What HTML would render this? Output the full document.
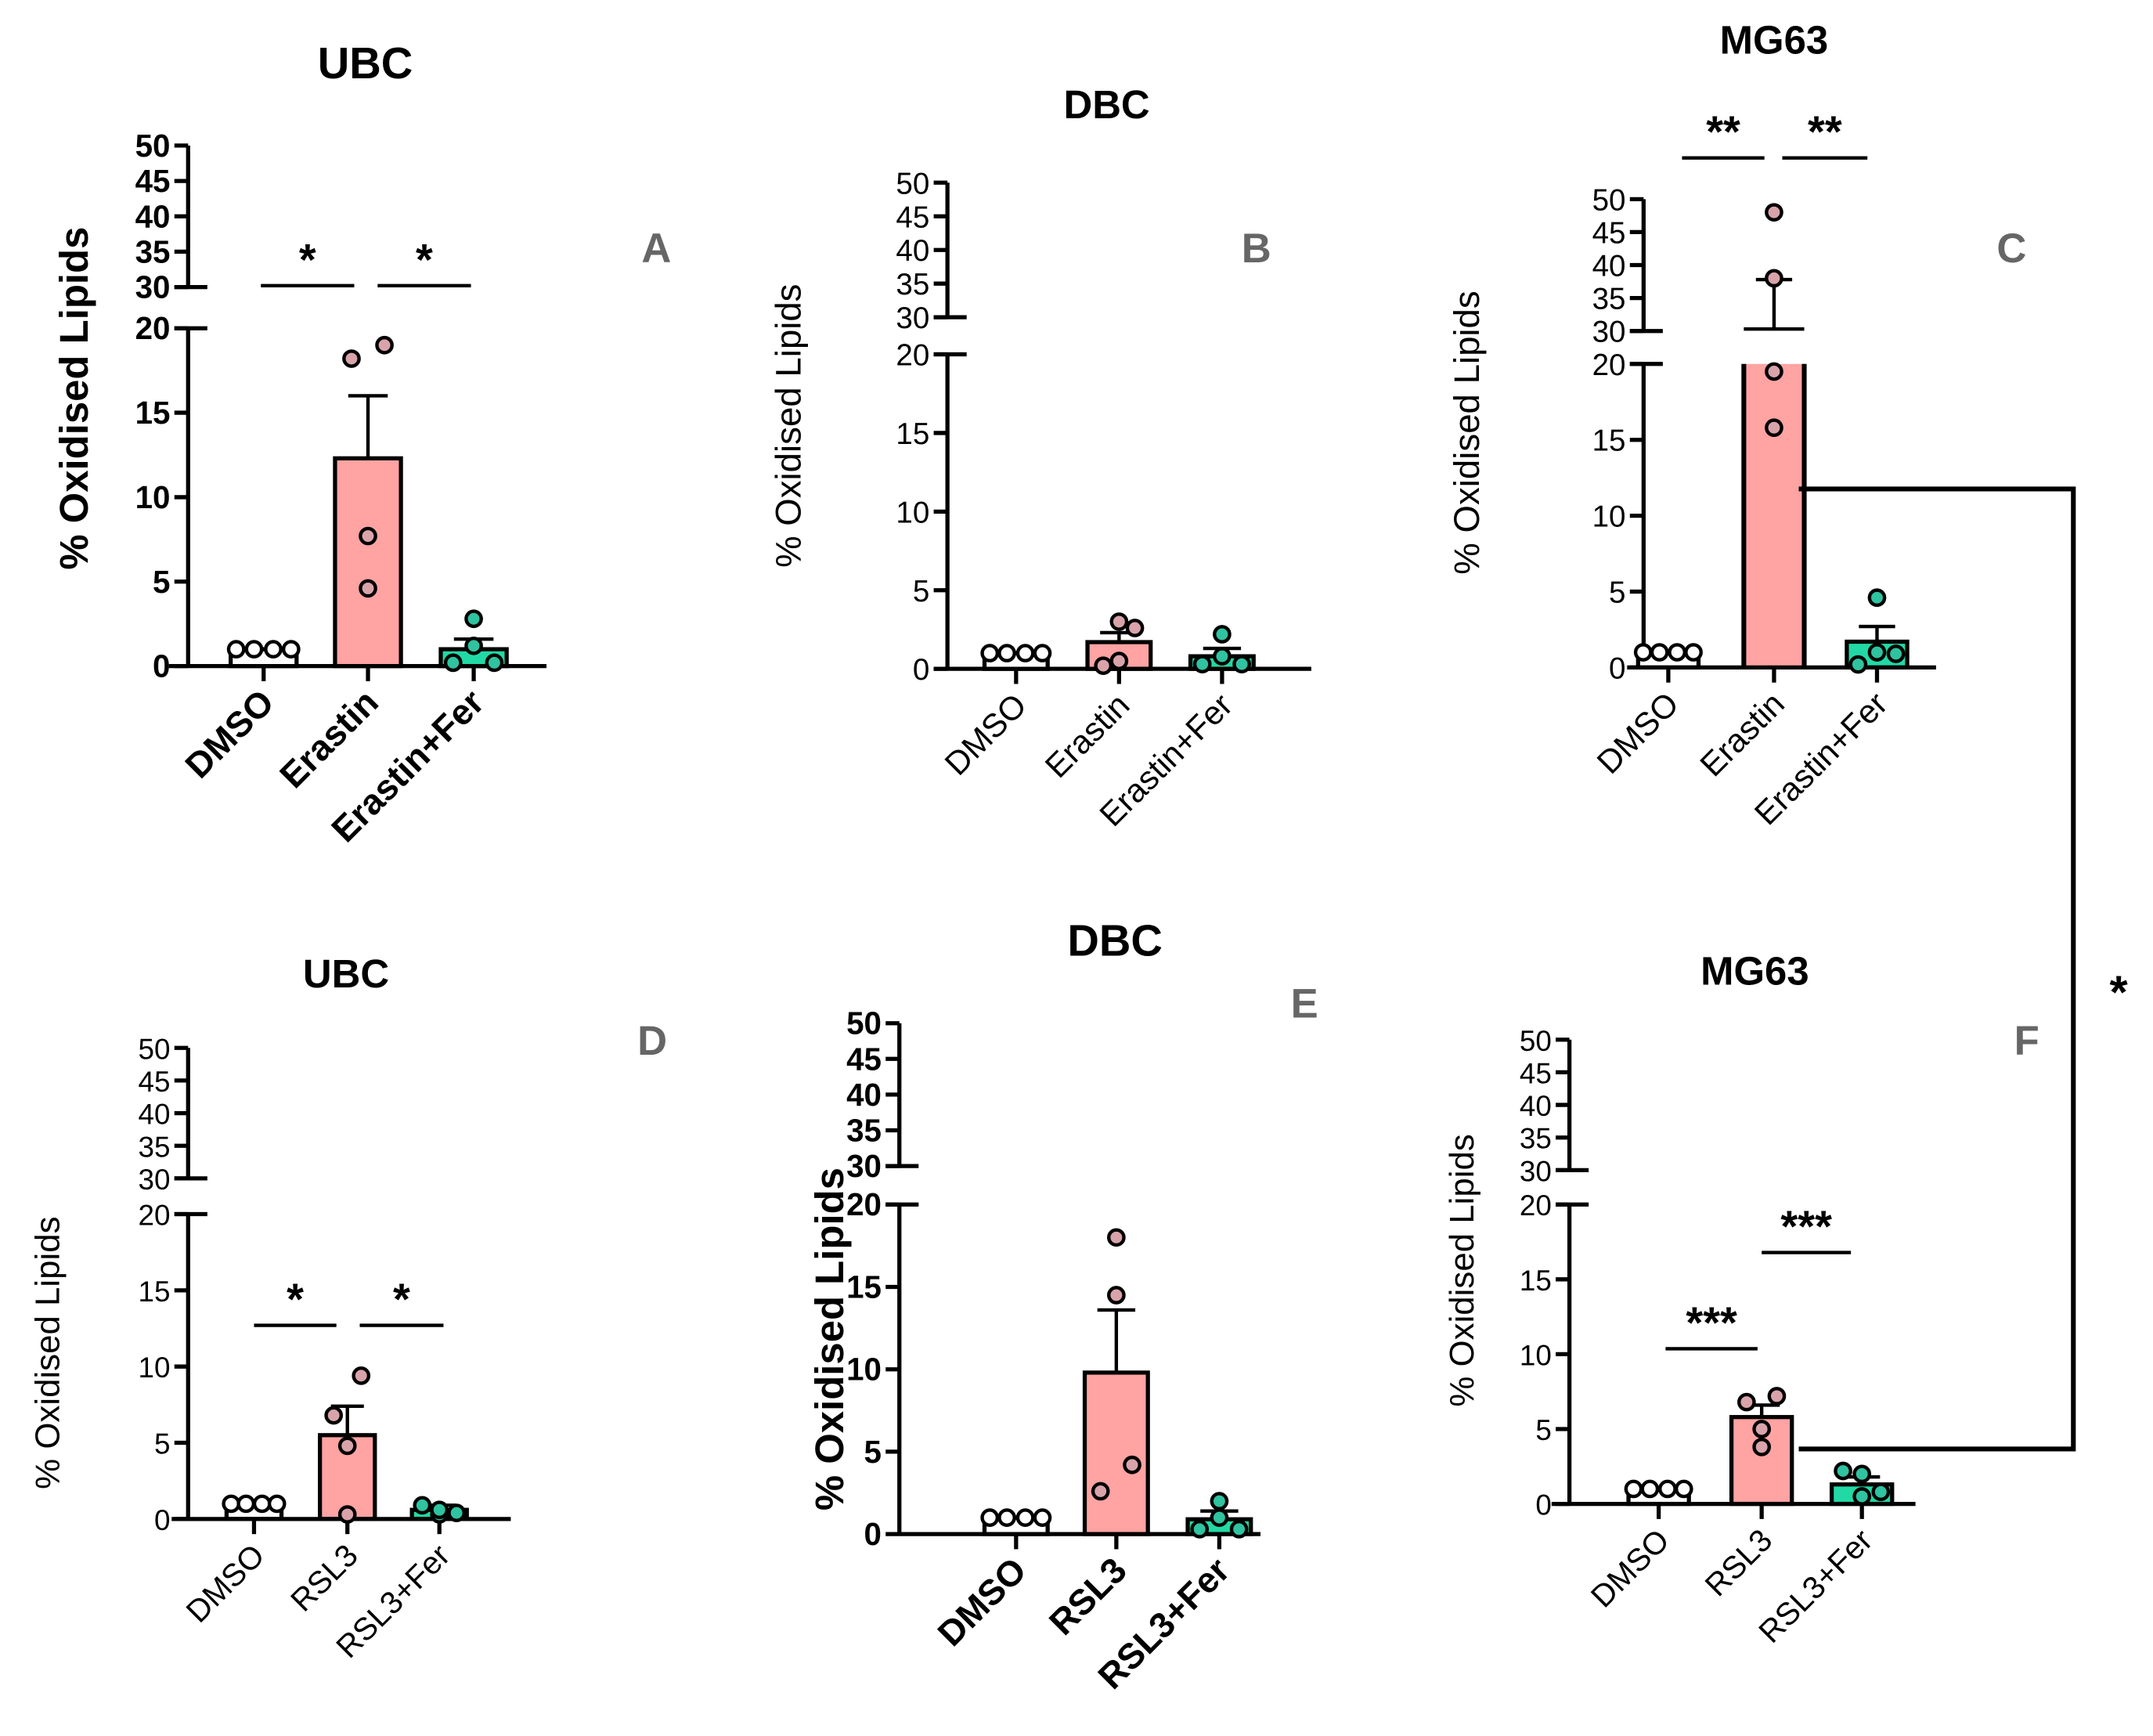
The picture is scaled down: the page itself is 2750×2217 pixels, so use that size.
<!DOCTYPE html>
<html><head><meta charset="utf-8">
<style>
html,body{margin:0;padding:0;background:#fff;}
svg{display:block;}
text{font-family:"Liberation Sans",Arial,sans-serif;fill:#000;}
</style></head>
<body>
<svg id="fig" width="2750" height="2217" viewBox="0 0 1568 1264" preserveAspectRatio="none" xmlns="http://www.w3.org/2000/svg"></svg>
<script>
// ---- data ----
const catsA = ["DMSO","Erastin","Erastin+Fer"];
const meansA = [1.0, 12.3, 1.0];
const semsA = [0, 3.7, 0.6];
const ptsA = [[1,1,1,1],[18.2,19.0,7.7,4.6],[0.2,2.8,1.2,0.2]];

const catsB = ["DMSO","Erastin","Erastin+Fer"];
const meansB = [1.0, 1.7, 0.8];
const semsB = [0, 0.6, 0.5];
const ptsB = [[1,1,1,1],[0.2,2.6,3.0,0.5],[0.3,2.2,0.8,0.3]];

const catsC = ["DMSO","Erastin","Erastin+Fer"];
const meansC = [1.0, 30.3, 1.7];
const semsC = [0, 7.5, 1.0];
const ptsC = [[1,1,1,1],[15.8,19.5,38.0,48.0],[0.2,1.0,4.6,0.9]];

const catsD = ["DMSO","RSL3","RSL3+Fer"];
const meansD = [1.0, 5.5, 0.6];
const semsD = [0, 1.9, 0.3];
const ptsD = [[1,1,1,1],[6.8,9.4,4.8,0.3],[0.9,0.3,0.6,0.4]];

const catsE = ["DMSO","RSL3","RSL3+Fer"];
const meansE = [1.0, 9.8, 0.9];
const semsE = [0, 3.8, 0.5];
const ptsE = [[1,1,1,1],[2.6,4.2,14.5,18.0],[0.3,1.0,2.0,0.3]];

const catsF = ["DMSO","RSL3","RSL3+Fer"];
const meansF = [1.0, 5.8, 1.3];
const semsF = [0, 0.8, 0.5];
const ptsF = [[1,1,1,1],[6.8,7.2,5.0,3.8],[2.2,0.5,2.0,0.8]];

const ticksLow = [0,5,10,15,20];
const ticksHigh = [30,35,40,45,50];

// ---- layout ----
const NS = "http://www.w3.org/2000/svg";
const svg = document.getElementById("fig");
function el(tag, attrs, parent, txt){
  const e = document.createElementNS(NS, tag);
  for (const k in attrs) e.setAttribute(k, attrs[k]);
  if (txt !== undefined) e.textContent = txt;
  (parent||svg).appendChild(e);
  return e;
}
const fills = ["#ffffff","#ffa3a3","#22d9a5"];
const ptFills = ["#ffffff","#d9a3aa","#2fc3a0"];
const jit = [[-20,-7,7,20],[-12,12,0,0],[-15,0,0,15]];

function panel(L, cats, means, sems, pts){
  const g = el("g", {});
  
  
  const lowK = (L.y0 - L.y20)/20, highK = (L.y30 - L.y50)/20;
  const y = v => v <= 20 ? L.y0 - v*lowK : (v >= 30 ? L.y30 - (v-30)*highK : L.y20 - 2);
  const xc = i => L.cx[i];
  const fw = L.bold ? "bold" : "normal";
  const sw = 3;
  const t = el("text", {x:L.tx, y:L.ty, "text-anchor":"middle", "font-size":L.tfs, "font-weight":"bold"}, g, L.title);
  
  
  const lt = el("text", {x:L.lx, y:L.ly, "text-anchor":"middle", "font-size":30, "font-weight":"bold", style:"fill:#666"}, g, L.id.toUpperCase());
  
  
  el("line", {x1:L.ax, y1:L.y0+1, x2:L.ax, y2:L.y20, stroke:"#000","stroke-width":sw}, g);
  el("line", {x1:L.ax, y1:L.y30, x2:L.ax, y2:L.y50, stroke:"#000","stroke-width":sw}, g);
  el("line", {x1:L.ax-10, y1:L.y20, x2:L.ax+14, y2:L.y20, stroke:"#000","stroke-width":sw}, g);
  el("line", {x1:L.ax-10, y1:L.y30, x2:L.ax+14, y2:L.y30, stroke:"#000","stroke-width":sw}, g);
  ticksLow.concat(ticksHigh).forEach(v=>{
    el("line", {x1:L.ax-10, y1:y(v), x2:L.ax, y2:y(v), stroke:"#000","stroke-width":sw}, g);
    const tl = el("text", {x:L.ax-13, y:y(v)+8, "text-anchor":"end", "font-size":L.tkfs, "font-weight":fw}, g, String(v));
    
    
  });
  const yt = el("text", {x:0, y:0, "text-anchor":"middle", "font-size":L.yfs, "font-weight":fw, transform:`translate(${L.ylx},${L.yly}) rotate(-90)`}, g, "% Oxidised Lipids");
  
  
  cats.forEach((c,i)=>{
    const x = xc(i), m = means[i], bw = L.bw;
    if (m > 20) {
      const r = el("rect", {x:x-bw/2, y:y(20), width:bw, height:L.y0-y(20), fill:fills[i], stroke:"none"}, g);
      
      
      el("path", {d:`M${x-bw/2},${L.y0} L${x-bw/2},${y(20)} M${x+bw/2},${y(20)} L${x+bw/2},${L.y0}`, stroke:"#000","stroke-width":3.5, fill:"none"}, g);
      el("line", {x1:x-bw/2, y1:y(m), x2:x+bw/2, y2:y(m), stroke:"#000","stroke-width":2.5}, g);
    } else {
      const r = el("rect", {x:x-bw/2, y:y(m), width:bw, height:L.y0-y(m), fill:fills[i], stroke:"#000","stroke-width":3}, g);
      
      
    }
    if (sems[i] > 0) {
      el("line", {x1:x, y1:y(m), x2:x, y2:y(m+sems[i]), stroke:"#000","stroke-width":2.5}, g);
      el("line", {x1:x-bw*0.3, y1:y(m+sems[i]), x2:x+bw*0.3, y2:y(m+sems[i]), stroke:"#000","stroke-width":2.5}, g);
    }
  });
  el("line", {x1:L.xa0, y1:L.y0, x2:L.xa1, y2:L.y0, stroke:"#000","stroke-width":sw}, g);
  cats.forEach((c,i)=>{
    el("line", {x1:xc(i), y1:L.y0, x2:xc(i), y2:L.y0+11, stroke:"#000","stroke-width":sw}, g);
    const xl = el("text", {x:0, y:0, "text-anchor":"end", "font-size":L.xfs, "font-weight":fw, transform:`translate(${xc(i)+9},${L.y0+28}) rotate(-45)`}, g, c);
    
    
  });
  pts.forEach((arr,i)=>{
    arr.forEach((v,j)=>{
      const jj = (i===1 && v>=15 && L.id==='c') ? 0 : jit[i][j];
      const p = el("circle", {cx:xc(i)+jj*L.bw/48, cy:y(v), r:5.5, fill:ptFills[i], stroke:"#000","stroke-width":2.5}, g);
      
      
    });
  });
  (L.sig||[]).forEach(s=>{
    el("line", {x1:s[0], y1:s[2], x2:s[1], y2:s[2], stroke:"#000","stroke-width":2.5}, g);
    const st = el("text", {x:(s[0]+s[1])/2, y:s[2]-8, "text-anchor":"middle", "font-size":32, "font-weight":"bold"}, g, s[3]);
    
    
  });
}

panel({id:"a", title:"UBC", tx:266, ty:57, tfs:32, lx:478, ly:191, ax:137, y0:485, y20:239, y30:209, y50:106,
  xa0:123, xa1:398, cx:[192,268,345], bw:48, bold:true, tkfs:23, xfs:26, yfs:29, ylx:64, yly:290,
  sig:[[190,258,208,"*"],[275,343,208,"*"]]}, catsA, meansA, semsA, ptsA);
panel({id:"b", title:"DBC", tx:806, ty:86, tfs:29, lx:915, ly:191, ax:690, y0:487, y20:258, y30:231, y50:133,
  xa0:680, xa1:955, cx:[740,815,890], bw:46, bold:false, tkfs:22, xfs:24, yfs:26, ylx:583, yly:310,
  sig:[]}, catsB, meansB, semsB, ptsB);
panel({id:"c", title:"MG63", tx:1292, ty:39, tfs:29, lx:1465, ly:191, ax:1197, y0:486, y20:265, y30:241, y50:145,
  xa0:1185, xa1:1410, cx:[1215,1292,1367], bw:44, bold:false, tkfs:22, xfs:24, yfs:26, ylx:1077, yly:315,
  sig:[[1225,1285,115,"**"],[1298,1360,115,"**"]]}, catsC, meansC, semsC, ptsC);
panel({id:"d", title:"UBC", tx:252, ty:719, tfs:29, lx:475, ly:768, ax:137, y0:1106, y20:884, y30:858, y50:763,
  xa0:125, xa1:372, cx:[185,253,320], bw:40, bold:false, tkfs:21, xfs:23, yfs:25, ylx:43, yly:985,
  sig:[[185,245,965,"*"],[262,323,965,"*"]]}, catsD, meansD, semsD, ptsD);
panel({id:"e", title:"DBC", tx:812, ty:696, tfs:32, lx:950, ly:741, ax:655, y0:1117, y20:877, y30:849, y50:745,
  xa0:655, xa1:918, cx:[740,813,888], bw:46, bold:true, tkfs:23, xfs:26, yfs:29, ylx:614, yly:975,
  sig:[]}, catsE, meansE, semsE, ptsE);
panel({id:"f", title:"MG63", tx:1278, ty:717, tfs:29, lx:1476, ly:768, ax:1143, y0:1095, y20:877, y30:852, y50:757,
  xa0:1130, xa1:1395, cx:[1208,1283,1356], bw:44, bold:false, tkfs:21, xfs:23, yfs:25, ylx:1073, yly:925,
  sig:[[1213,1280,982,"***"],[1283,1348,912,"***"]]}, catsF, meansF, semsF, ptsF);

const br = el("path", {d:"M1310,356 L1510,356 L1510,1055 L1310,1055", fill:"none", stroke:"#000","stroke-width":3.5});


const bs = el("text", {x:1543, y:734, "text-anchor":"middle", "font-size":34, "font-weight":"bold"}, svg, "*");


</script>
</body></html>
